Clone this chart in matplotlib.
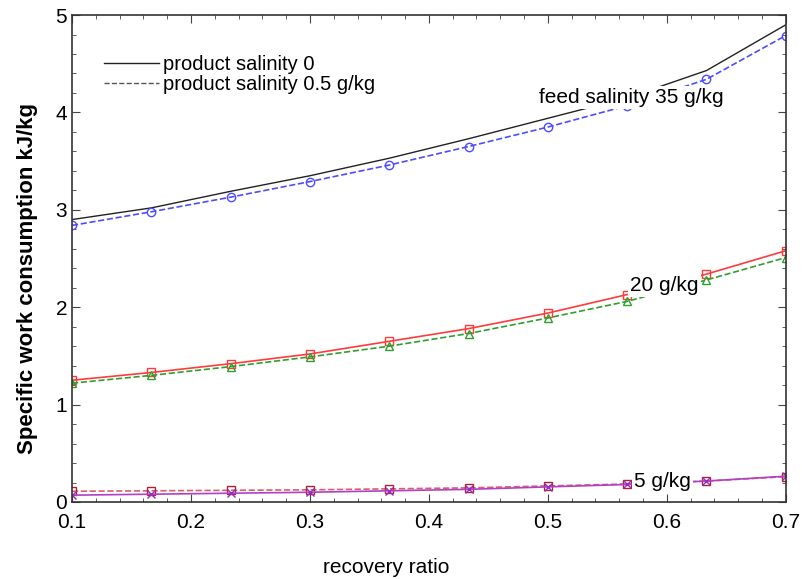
import numpy as np
import matplotlib
matplotlib.use('Agg')
import matplotlib.pyplot as plt
from matplotlib.ticker import MultipleLocator

plt.rcParams['font.family'] = ['Liberation Sans', 'DejaVu Sans']

recovery = [0.1, 0.1667, 0.2333, 0.3, 0.3667, 0.4333, 0.5, 0.5667, 0.6333, 0.7]

# feed salinity 35 g/kg
w35_p0 = [2.90, 3.02, 3.19, 3.35, 3.53, 3.73, 3.94, 4.15, 4.43, 4.90]
w35_p05 = [2.84, 2.98, 3.13, 3.29, 3.46, 3.65, 3.85, 4.07, 4.34, 4.79]
# feed salinity 20 g/kg
w20_p0 = [1.25, 1.33, 1.42, 1.52, 1.65, 1.78, 1.94, 2.13, 2.34, 2.58]
w20_p05 = [1.22, 1.30, 1.39, 1.49, 1.60, 1.73, 1.89, 2.06, 2.28, 2.51]
# feed salinity 5 g/kg
w5_p0 = [0.07, 0.08, 0.09, 0.10, 0.115, 0.13, 0.155, 0.18, 0.215, 0.265]
w5_p05 = [0.11, 0.115, 0.12, 0.125, 0.135, 0.145, 0.165, 0.185, 0.215, 0.26]

fig = plt.figure(figsize=(8.02, 5.79), dpi=100)
ax = fig.add_axes([0.0898, 0.133, 0.890, 0.841])

# legend-only handles
ax.plot([], [], '-', color='#222222', lw=1.0, label='product salinity 0')
ax.plot([], [], '--', color='#555555', lw=1.0, label='product salinity 0.5 g/kg')

ax.plot(recovery, w35_p0, '-', color='#222222', lw=1.0)
ax.plot(recovery, w35_p05, '--', color='#4d4dff', lw=1.2, marker='o', ms=6,
        mfc='none', mec='#4d4dff')

ax.plot(recovery, w20_p0, '-', color='#ff3b3b', lw=1.2, marker='s', ms=6,
        mfc='none', mec='#ff3b3b')
ax.plot(recovery, w20_p05, '--', color='#2ea02e', lw=1.2, marker='^', ms=6,
        mfc='none', mec='#2ea02e')

ax.plot(recovery, w5_p05, '--', color='#e05c6a', lw=1.2, marker='s', ms=6,
        mfc='none', mec='#b02030')
ax.plot(recovery, w5_p0, '-', color='#b040c8', lw=1.2, marker='x', ms=6,
        mec='#9030c0')

txt_box = dict(fc='white', ec='none', pad=1.5)
ax.text(0.570, 4.15, 'feed salinity 35 g/kg', fontsize=15, ha='center',
        va='center', bbox=txt_box, zorder=5)
ax.text(0.598, 2.22, '20 g/kg', fontsize=15, ha='center', va='center',
        bbox=txt_box, zorder=5)
ax.text(0.596, 0.215, '5 g/kg', fontsize=15, ha='center', va='center',
        bbox=txt_box, zorder=5)

ax.set_xlim(0.1, 0.7)
ax.set_ylim(0, 5)
ax.xaxis.set_major_locator(MultipleLocator(0.1))
ax.xaxis.set_minor_locator(MultipleLocator(0.02))
ax.yaxis.set_major_locator(MultipleLocator(1))
ax.yaxis.set_minor_locator(MultipleLocator(0.2))
ax.tick_params(which='both', direction='in', top=True, right=True,
               labelsize=15, color='#444444')
ax.tick_params(axis='x', which='major', pad=8)
ax.tick_params(which='major', length=6)
ax.tick_params(which='minor', length=3)
ax.set_xticks([0.1, 0.2, 0.3, 0.4, 0.5, 0.6, 0.7])
ax.set_xticklabels(['0.1', '0.2', '0.3', '0.4', '0.5', '0.6', '0.7'])
for s in ax.spines.values():
    s.set_color('#333333')
    s.set_linewidth(1.2)

ax.set_xlabel('recovery ratio', fontsize=15)
ax.xaxis.set_label_coords(0.44, -0.115)
ax.set_ylabel('Specific work consumption kJ/kg', fontsize=16,
              fontweight='bold')
ax.yaxis.set_label_coords(-0.047, 0.46)

ax.legend(loc='upper left', bbox_to_anchor=(0.02, 0.955), frameon=False,
          fontsize=14.5, handlelength=2.7, handletextpad=0.2,
          labelspacing=0.05)

fig.savefig('out.png', dpi=100)
